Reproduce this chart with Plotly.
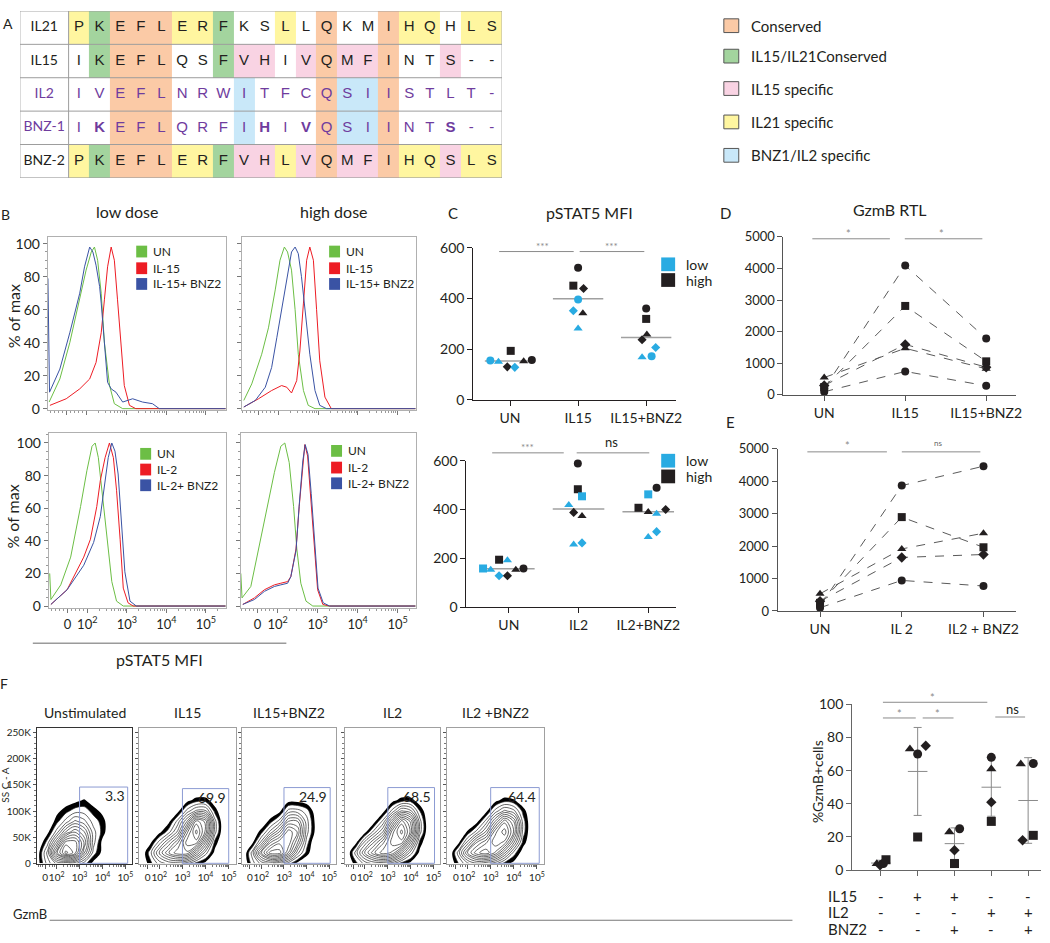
import numpy as np
import plotly.graph_objects as go

W, H = 1050, 943
FONT = "Lato"
TXT = "#231f20"
PURPLE = "#6f3c9e"
SIG = "#8a8a8a"
BLUE_PT = "#29abe2"
BLACK_PT = "#231f20"
C_UN, C_IL, C_BNZ = "#6cbe45", "#ed1c24", "#3a53a4"

# ---------------- Panel A data ----------------
seq_names = ["IL21", "IL15", "IL2", "BNZ-1", "BNZ-2"]
seq_IL21 = "PKEFLERFKSLLQKMIHQHLS"
seq_IL15 = "IKEFLQSFVHIVQMFINTS--"
seq_IL2 = "IVEFLNRWITFCQSIISTLT-"
seq_BNZ1 = "IKEFLQRFIHIVQSIINTS--"
seq_BNZ2 = "PKEFLERFVHLVQMFIHQSLS"
cls_IL21 = "YGOOOYYGWWYWOWWOYYWYY"
cls_IL15 = "WGOOOWWGPPWPOPPOWWPWW"
cls_IL2 = "WWOOOWWWBWWWOBBOWWWWW"
cls_BNZ1 = "WWOOOWWWBWWWOBBOWWWWW"
cls_BNZ2 = "YGOOOYYGPPYPOPPOYYPYY"
bnz1_bold = [1, 9, 11, 18]
purple_rows = ["IL2", "BNZ-1"]
legendA_labels = ["Conserved", "IL15/IL21Conserved", "IL15 specific", "IL21 specific", "BNZ1/IL2 specific"]
legendA_codes = ["O", "G", "P", "Y", "B"]

# ---------------- Panel B data (x in decade display units, y = % of max) ----------------
B_TL_un_x = [1.06, 1.33, 1.58, 1.83, 1.99, 2.12, 2.20, 2.28, 2.37, 2.45, 2.58, 2.70, 2.91, 5.50]
B_TL_un_y = [4, 18, 40, 66, 84, 95, 98, 90, 70, 40, 14, 3, 0, 0]
B_TL_il_x = [1.08, 1.49, 1.83, 2.08, 2.24, 2.37, 2.45, 2.53, 2.62, 2.70, 2.78, 2.87, 2.95, 3.08, 3.24, 5.50]
B_TL_il_y = [2, 6, 12, 18, 28, 46, 66, 86, 98, 90, 66, 38, 14, 2, 0, 0]
B_TL_bnz_x = [1.03, 1.07, 1.33, 1.58, 1.83, 1.95, 2.08, 2.16, 2.24, 2.33, 2.37, 2.45, 2.53, 2.62, 2.74, 2.91, 3.16, 3.41, 3.66, 3.83, 5.50]
B_TL_bnz_y = [79, 10, 24, 46, 70, 86, 98, 95, 87, 74, 64, 38, 16, 12, 10, 4, 6, 4, 3, 0, 0]

B_TR_un_x = [1.13, 1.33, 1.58, 1.75, 1.92, 2.04, 2.15, 2.23, 2.33, 2.42, 2.50, 2.63, 2.75, 2.92, 5.45]
B_TR_un_y = [5, 15, 33, 49, 72, 90, 98, 95, 84, 60, 33, 11, 2, 0, 0]
B_TR_il_x = [1.13, 1.50, 1.83, 2.08, 2.21, 2.33, 2.46, 2.54, 2.63, 2.71, 2.79, 2.88, 2.96, 3.04, 3.17, 3.33, 5.45]
B_TR_il_y = [1, 6, 11, 14, 13, 9.5, 17, 35, 64, 90, 98, 90, 60, 29, 7, 0, 0]
B_TR_bnz_x = [1.13, 1.42, 1.67, 1.83, 1.96, 2.08, 2.21, 2.33, 2.42, 2.50, 2.58, 2.67, 2.79, 2.92, 3.04, 3.21, 5.45]
B_TR_bnz_y = [1, 5, 13, 25, 43, 60, 78, 95, 98, 94, 80, 60, 33, 11, 2, 0, 0]

B_BL_un_x = [1.05, 1.08, 1.33, 1.58, 1.83, 1.99, 2.12, 2.20, 2.28, 2.37, 2.49, 2.62, 2.74, 2.91, 5.50]
B_BL_un_y = [20, 4, 13, 30, 61, 83, 98, 100, 91, 71, 41, 15, 3, 0, 0]
B_BL_il_x = [1.08, 1.49, 1.91, 2.08, 2.24, 2.33, 2.45, 2.56, 2.66, 2.74, 2.83, 2.91, 3.03, 3.16, 5.50]
B_BL_il_y = [1, 10, 30, 41, 61, 77, 91, 100, 91, 71, 41, 11, 2, 0, 0]
B_BL_bnz_x = [1.08, 1.49, 1.91, 2.16, 2.33, 2.45, 2.53, 2.62, 2.70, 2.78, 2.87, 2.95, 3.08, 3.24, 5.50]
B_BL_bnz_y = [1, 10, 25, 39, 55, 75, 91, 100, 95, 81, 51, 21, 3, 0, 0]

B_BR_un_x = [1.08, 1.11, 1.33, 1.58, 1.75, 1.92, 2.08, 2.18, 2.29, 2.40, 2.48, 2.58, 2.71, 2.88, 5.45]
B_BR_un_y = [20, 5, 12, 41, 61, 82, 98, 100, 88, 61, 35, 14, 3, 0, 0]
B_BR_il_x = [1.13, 1.42, 1.67, 1.92, 2.08, 2.25, 2.33, 2.46, 2.54, 2.63, 2.68, 2.75, 2.83, 2.92, 3.00, 3.13, 3.29, 5.45]
B_BR_il_y = [1, 5, 10, 13, 14, 15, 18, 35, 61, 88, 99, 92, 67, 35, 10, 1, 0, 0]
B_BR_bnz_x = [1.13, 1.42, 1.67, 1.92, 2.08, 2.25, 2.33, 2.46, 2.54, 2.63, 2.69, 2.76, 2.84, 2.93, 3.01, 3.14, 3.30, 5.45]
B_BR_bnz_y = [1, 4, 9, 12, 13, 14, 18, 34, 62, 89, 99, 93, 69, 37, 11, 2, 0, 0]

B_legend_top = ["UN", "IL-15", "IL-15+ BNZ2"]
B_legend_bot = ["UN", "IL-2", "IL-2+ BNZ2"]
B_xtick_text = ["0", "10<sup>2</sup>", "10<sup>3</sup>", "10<sup>4</sup>", "10<sup>5</sup>"]

# ---------------- Panel C data ----------------
C1_cats = ["UN", "IL15", "IL15+BNZ2"]
C1_grp = [0] * 7 + [1] * 7 + [2] * 7
C1_val = [155, 150, 130, 193, 128, 152, 157,
          521, 450, 439, 395, 351, 341, 281,
          360, 319, 258, 237, 206, 168, 172]
C1_off = [-0.29, -0.17, -0.04, 0.01, 0.07, 0.20, 0.32,
          0.0, -0.07, 0.08, 0.0, -0.07, 0.07, 0.0,
          0.0, 0.0, 0.01, -0.06, 0.14, -0.06, 0.08]
C1_sym = ["circle", "triangle-up", "diamond", "square", "diamond", "triangle-up", "circle",
          "circle", "square", "diamond", "circle", "diamond", "triangle-up", "triangle-up",
          "circle", "square", "triangle-up", "diamond", "diamond", "triangle-up", "circle"]
C1_dose = ["low", "low", "high", "high", "low", "high", "high",
           "high", "high", "high", "low", "low", "high", "low",
           "high", "high", "high", "high", "low", "low", "low"]
C1_median = [153, 398, 246]

C2_cats = ["UN", "IL2", "IL2+BNZ2"]
C2_grp = [0] * 8 + [1] * 8 + [2] * 8
C2_val = [158, 153, 194, 192, 128, 128, 153, 158,
          589, 483, 454, 418, 388, 373, 256, 263,
          407, 489, 462, 390, 382, 400, 287, 309]
C2_off = [-0.37, -0.26, -0.14, -0.02, -0.14, -0.02, 0.10, 0.21,
          -0.01, -0.01, 0.05, -0.14, -0.07, 0.05, -0.07, 0.05,
          -0.14, 0.12, 0.0, 0.0, 0.12, 0.25, 0.0, 0.12]
C2_sym = ["square", "triangle-up", "square", "triangle-up", "diamond", "diamond", "triangle-up", "circle",
          "circle", "square", "square", "triangle-up", "diamond", "triangle-up", "triangle-up", "diamond",
          "square", "circle", "square", "triangle-up", "triangle-up", "diamond", "triangle-up", "diamond"]
C2_dose = ["low", "low", "high", "low", "low", "high", "high", "high",
           "high", "high", "low", "low", "high", "high", "low", "low",
           "high", "high", "low", "high", "low", "high", "low", "low"]
C2_median = [157, 402, 391]
dose_labels = ["low", "high"]

# ---------------- Panels D / E data ----------------
D_cats = ["UN", "IL15", "IL15+BNZ2"]
D_d1 = [200, 4093, 1784]
D_d2 = [250, 2814, 1062]
D_d3 = [300, 1598, 876]
D_d4 = [550, 1474, 825]
D_d5 = [100, 742, 289]
E_cats = ["UN", "IL 2", "IL2 + BNZ2"]
E_d1 = [150, 3868, 4466]
E_d2 = [250, 2896, 1965]
E_d3 = [300, 1651, 1742]
E_d4 = [530, 1914, 2400]
E_d5 = [100, 942, 770]
donor_symbols = ["circle", "square", "diamond", "triangle-up", "circle"]

# ---------------- Panel F flow density data ----------------
F_titles = ["Unstimulated", "IL15", "IL15+BNZ2", "IL2", "IL2 +BNZ2"]
F_gate_pct = ["3.3", "69.9", "24.9", "68.5", "64.4"]
F_gate_right = [5.1, 5.0, 5.04, 5.04, 5.1]
F_gate_top = [146, 143, 145, 145, 145]
F_u = [1.2, 1.6, 2.0, 2.4, 2.8, 3.2, 3.6, 4.0, 4.4, 4.8]
F_ssc = [0, 20, 40, 60, 80, 100, 120, 140]
F_z_unstim = [
    [0.5, 2, 3, 3, 2.5, 1.5, 0.5, 0, 0, 0],
    [0.5, 2.5, 6, 8, 7, 4, 1.5, 0.5, 0, 0],
    [0, 1.5, 4, 7, 7, 5, 2, 0.5, 0, 0],
    [0, 0.5, 2, 4, 5, 4, 2, 1, 0, 0],
    [0, 0, 1, 2, 3, 2.5, 1.5, 1, 0, 0],
    [0, 0, 0.5, 1, 1.5, 1.5, 1, 0.5, 0, 0],
    [0, 0, 0, 0.3, 0.5, 0.8, 0.3, 0, 0, 0],
    [0, 0, 0, 0, 0, 0, 0, 0, 0, 0]]
F_z_il15 = [
    [0, 1, 2, 2.5, 2.5, 2, 1, 0.5, 0, 0],
    [0, 1.5, 3.5, 5, 6, 6, 4, 2, 0.5, 0],
    [0, 0.5, 2, 3.5, 5, 7, 7, 4, 1, 0],
    [0, 0, 0.5, 1.5, 3, 6, 8, 6, 2, 0],
    [0, 0, 0, 0.5, 2, 4, 7, 6, 2, 0],
    [0, 0, 0, 0, 0.5, 2, 3, 3, 1, 0],
    [0, 0, 0, 0, 0, 0.5, 1, 1, 0.3, 0],
    [0, 0, 0, 0, 0, 0, 0, 0, 0, 0]]
F_z_il15_bnz = [
    [0, 1.5, 2.5, 3, 2.5, 1.5, 0.5, 0, 0, 0],
    [0, 2, 5, 7, 7, 5, 2.5, 1, 0, 0],
    [0, 0.5, 2.5, 5, 6, 6, 4, 1.5, 0, 0],
    [0, 0, 1, 2.5, 4, 6, 5, 2, 0.5, 0],
    [0, 0, 0, 1, 2, 4, 4, 2, 0.5, 0],
    [0, 0, 0, 0, 0.5, 2, 2, 1.5, 0.3, 0],
    [0, 0, 0, 0, 0, 0.5, 0.5, 0.3, 0, 0],
    [0, 0, 0, 0, 0, 0, 0, 0, 0, 0]]
F_z_il2 = [
    [0, 1, 2, 2.5, 2.5, 2, 1, 0.5, 0, 0],
    [0, 2, 4, 5.5, 6.5, 6, 4, 2, 0.5, 0],
    [0, 0.5, 2.5, 4, 5.5, 7, 7, 4, 1, 0],
    [0, 0, 0.5, 2, 3.5, 6.5, 8, 6, 2, 0],
    [0, 0, 0, 0.5, 2, 4.5, 7, 5.5, 2, 0],
    [0, 0, 0, 0, 0.5, 2, 3.5, 3, 1.2, 0],
    [0, 0, 0, 0, 0, 0.5, 1, 1, 0.3, 0],
    [0, 0, 0, 0, 0, 0, 0, 0, 0, 0]]
F_z_il2_bnz = [
    [0, 1.2, 2.2, 2.8, 2.5, 2, 1, 0.5, 0, 0],
    [0, 2, 4.5, 6, 6.5, 5.5, 3.5, 1.5, 0.3, 0],
    [0, 0.5, 2.5, 4.5, 5.5, 6.5, 6, 3.5, 1, 0],
    [0, 0, 0.8, 2, 3.5, 6, 7, 5, 1.5, 0],
    [0, 0, 0, 0.5, 2, 4, 6, 4.5, 1.5, 0],
    [0, 0, 0, 0, 0.5, 2, 3, 2.5, 1, 0],
    [0, 0, 0, 0, 0, 0.5, 1, 0.8, 0.2, 0],
    [0, 0, 0, 0, 0, 0, 0, 0, 0, 0]]
F_grids = [F_z_unstim, F_z_il15, F_z_il15_bnz, F_z_il2, F_z_il2_bnz]

# ---------------- Panel F right data ----------------
G_cats = [0, 1, 2, 3, 4]
G_tri = [3.9, 73, 23, 61, 64]
G_cir = [4.0, 70, 25, 68, 64.3]
G_dia = [3.0, 75, 12, 41, 18]
G_sqr = [6.3, 20, 4, 29.4, 21]
G_tri_off = [-0.11, -0.21, -0.14, 0.0, -0.20]
G_cir_off = [0.07, 0.0, 0.14, 0.0, 0.14]
G_dia_off = [-0.02, 0.22, 0.0, 0.0, -0.15]
G_sqr_off = [0.14, 0.0, 0.0, 0.0, 0.14]
G_mean = [4.3, 59.5, 16, 50, 42]
G_upper = [6, 86, 25.5, 67.5, 67.8]
G_lower = [3, 33, 6.5, 32.5, 16.2]
G_IL15 = ["-", "+", "+", "-", "-"]
G_IL2 = ["-", "-", "-", "+", "+"]
G_BNZ2 = ["-", "-", "+", "-", "+"]

# =====================================================================
fig = go.Figure()
annotations, shapes, axes = [], [], {}


def PX(x):
    return x / W


def PY(y):
    return 1 - y / H


def text(x, y, s, size=13, color=TXT, xanchor="center", yanchor="middle", angle=0, family=FONT):
    annotations.append(dict(x=PX(x), y=PY(y), xref="paper", yref="paper", text=s, showarrow=False,
                            font=dict(size=size, color=color, family=family), xanchor=xanchor,
                            yanchor=yanchor, textangle=angle))


def pline(x0, x1, y0, y1=None, color=SIG, width=1):
    if y1 is None:
        y1 = y0
    shapes.append(dict(type="line", xref="paper", yref="paper", x0=PX(x0), x1=PX(x1), y0=PY(y0), y1=PY(y1),
                       line=dict(color=color, width=width)))


def prect(x0, y0, x1, y1, fill, line=None):
    shapes.append(dict(type="rect", xref="paper", yref="paper", x0=PX(x0), x1=PX(x1), y0=PY(y1), y1=PY(y0),
                       fillcolor=fill, line=dict(color=line or fill, width=1 if line else 0)))


def sfx(n):
    return "" if n == 1 else str(n)


def add_axes(n, x0, x1, y0, y1, xa, ya):
    s = sfx(n)
    xa = dict(xa)
    ya = dict(ya)
    xa.update(domain=[x0 / W, x1 / W], anchor="y" + s)
    ya.update(domain=[1 - y1 / H, 1 - y0 / H], anchor="x" + s)
    axes["xaxis" + s] = xa
    axes["yaxis" + s] = ya


def xy(n):
    return dict(xaxis="x" + sfx(n), yaxis="y" + sfx(n))


# ---------------- Panel A ----------------
codes = "WOGPYB"
pal = {"W": "#ffffff", "O": "#fbcaa6", "G": "#a3d49e", "P": "#f9d3e3", "Y": "#fff6a0", "B": "#c9e8f9"}
rows_seq = [seq_IL21, seq_IL15, seq_IL2, seq_BNZ1, seq_BNZ2]
rows_cls = [cls_IL21, cls_IL15, cls_IL2, cls_BNZ1, cls_BNZ2]
zA = [[0] + [codes.index(c) for c in cl] for cl in rows_cls]
scale = []
for i, c in enumerate(codes):
    scale += [[i / len(codes), pal[c]], [(i + 1) / len(codes), pal[c]]]
LABW = 49 / 20.76
ncol = len(seq_IL21)
xedges = [-LABW] + list(range(ncol + 1))
yedges = list(range(len(rows_seq) + 1))
fig.add_trace(go.Heatmap(z=zA, x=xedges, y=yedges, colorscale=scale, zmin=-0.5, zmax=5.5,
                         showscale=False, hoverinfo="skip", **xy(1)))
lx, ly, lt, lc = [], [], [], []
for r, s in enumerate(rows_seq):
    col = PURPLE if seq_names[r] in purple_rows else TXT
    for c, ch in enumerate(s):
        t = ch
        if seq_names[r] == "BNZ-1" and c in bnz1_bold:
            t = "<b>" + ch + "</b>"
        lx.append(c + 0.5)
        ly.append(r + 0.5)
        lt.append(t)
        lc.append(col)
fig.add_trace(go.Scatter(x=lx, y=ly, text=lt, mode="text", hoverinfo="skip",
                         textfont=dict(size=15, color=lc, family="Liberation Sans"), **xy(1)))
fig.add_trace(go.Scatter(x=[-LABW / 2] * len(seq_names), y=[r + 0.5 for r in range(len(seq_names))],
                         text=seq_names, mode="text", hoverinfo="skip",
                         textfont=dict(size=14, family=FONT,
                                       color=[PURPLE if n in purple_rows else TXT for n in seq_names]), **xy(1)))
for r in range(len(rows_seq) + 1):
    shapes.append(dict(type="line", xref="x", yref="y", x0=-LABW, x1=ncol, y0=r, y1=r,
                       line=dict(color="#9d9d9d", width=1)))
for xv in (-LABW, 0, ncol):
    shapes.append(dict(type="line", xref="x", yref="y", x0=xv, x1=xv, y0=0, y1=len(rows_seq),
                       line=dict(color="#9d9d9d", width=1)))
add_axes(1, 20, 505, 2, 172, dict(range=[-LABW, ncol], visible=False), dict(range=[5, 0], visible=False))
text(8, 15, "A", size=14)
for i, (lab, cd) in enumerate(zip(legendA_labels, legendA_codes)):
    yc = [17, 48, 81, 115, 149][i]
    prect(728, yc - 7, 743, yc + 7, pal[cd], line="#555")
    text(753, yc, lab, size=15, xanchor="left")

# ---------------- Panel B ----------------
minorB = [1.1, 1.2, 1.3, 1.4, 1.6, 1.7, 1.8, 1.9]
for d in range(2, 6):
    for k in range(2, 10):
        v = d + np.log10(k)
        if v < 5.45:
            minorB.append(float(v))


def b_axes(n, x0, x1, y0, y1, yr, xr, showx, showy):
    xa = dict(range=xr, tickvals=[1.5, 2, 3, 4, 5], ticktext=B_xtick_text, showticklabels=showx, tickangle=0,
              ticks="outside", ticklen=4, tickcolor="#777", showline=True, mirror=True, linecolor="#b0b0b0",
              linewidth=1, showgrid=False, zeroline=False,
              minor=dict(tickvals=minorB, ticks="outside", ticklen=2, tickcolor="#999"),
              tickfont=dict(size=13, family=FONT, color=TXT))
    ya = dict(range=yr, tickvals=[0, 20, 40, 60, 80, 100], showticklabels=showy, ticks="outside", ticklen=4,
              tickcolor="#777", showline=True, mirror=True, linecolor="#b0b0b0", linewidth=1, showgrid=False,
              zeroline=False, minor=dict(tickmode="linear", tick0=0, dtick=5, ticks="outside", ticklen=2,
                                         tickcolor="#999"),
              tickfont=dict(size=14, family=FONT, color=TXT))
    add_axes(n, x0, x1, y0, y1, xa, ya)


b_axes(2, 48, 227, 232, 408, [-0.6, 104.2], [1.025, 5.5], False, True)
b_axes(3, 243, 418, 232, 408, [-0.6, 104.2], [1.075, 5.45], False, False)
b_axes(4, 49, 227, 432, 610, [-1.2, 106], [1.025, 5.5], True, True)
b_axes(5, 242, 418, 432, 610, [-1.2, 106], [1.075, 5.45], True, False)
hist_sets = [
    (2, [(B_TL_un_x, B_TL_un_y, C_UN), (B_TL_il_x, B_TL_il_y, C_IL), (B_TL_bnz_x, B_TL_bnz_y, C_BNZ)]),
    (3, [(B_TR_un_x, B_TR_un_y, C_UN), (B_TR_il_x, B_TR_il_y, C_IL), (B_TR_bnz_x, B_TR_bnz_y, C_BNZ)]),
    (4, [(B_BL_un_x, B_BL_un_y, C_UN), (B_BL_il_x, B_BL_il_y, C_IL), (B_BL_bnz_x, B_BL_bnz_y, C_BNZ)]),
    (5, [(B_BR_un_x, B_BR_un_y, C_UN), (B_BR_il_x, B_BR_il_y, C_IL), (B_BR_bnz_x, B_BR_bnz_y, C_BNZ)]),
]
for n, curves in hist_sets:
    for xs, ys, col in curves:
        fig.add_trace(go.Scatter(x=xs, y=ys, mode="lines", line=dict(color=col, width=1),
                                 hoverinfo="skip", **xy(n)))
for (sx, ys, labels) in [(137, [247, 264, 280], B_legend_top), (331, [247, 264, 280], B_legend_top),
                         (141, [453, 469, 485], B_legend_bot), (333, [450, 467, 483], B_legend_bot)]:
    for yc, lab, col in zip(ys, labels, [C_UN, C_IL, C_BNZ]):
        prect(sx, yc - 6, sx + 11, yc + 6, col)
        text(sx + 15, yc, lab, size=12, xanchor="left")
text(6, 209, "B", size=14)
text(128, 206, "low dose", size=16)
text(336, 206, "high dose", size=16)
text(13, 313, "% of max", size=16, angle=-90)
text(13, 517, "% of max", size=16, angle=-90)
pline(33, 288, 646, color="#9a9a9a", width=1.5)
text(160, 662, "pSTAT5 MFI", size=16)

# ---------------- Panel C ----------------
def c_axes(n, x0, x1, y0, y1, xr, cats):
    xa = dict(range=xr, tickvals=[0, 1, 2], ticktext=cats, ticks="outside", ticklen=5, tickcolor=TXT,
              showline=True, linecolor=TXT, linewidth=1, showgrid=False, zeroline=False,
              tickfont=dict(size=14, family=FONT, color=TXT))
    ya = dict(range=[0, 600], tickvals=[0, 200, 400, 600], ticks="outside", ticklen=5, tickcolor=TXT,
              showline=True, linecolor=TXT, linewidth=1, showgrid=False, zeroline=False,
              tickfont=dict(size=14, family=FONT, color=TXT))
    add_axes(n, x0, x1, y0, y1, xa, ya)


c_axes(6, 476, 680, 243, 398, [-0.54, 2.44], C1_cats)
c_axes(7, 469, 680, 460, 609, [-0.61, 2.4], C2_cats)
sym_size = {"circle": 8, "square": 8, "triangle-up": 8, "diamond": 7}
for n, grp, val, off, sym, dose, med in [(6, C1_grp, C1_val, C1_off, C1_sym, C1_dose, C1_median),
                                         (7, C2_grp, C2_val, C2_off, C2_sym, C2_dose, C2_median)]:
    for g, m in enumerate(med):
        fig.add_trace(go.Scatter(x=[g - 0.37, g + 0.37], y=[m, m], mode="lines",
                                 line=dict(color="#a0a0a0", width=1.5), hoverinfo="skip", **xy(n)))
    fig.add_trace(go.Scatter(x=[g + o for g, o in zip(grp, off)], y=val, mode="markers", cliponaxis=False,
                             marker=dict(symbol=sym, size=[sym_size[s] for s in sym], opacity=1,
                                         color=[BLUE_PT if d == "low" else BLACK_PT for d in dose],
                                         line=dict(width=0)), hoverinfo="skip", **xy(n)))
text(456, 208, "C", size=15)
text(593, 207, "pSTAT5 MFI", size=16)
for yl, yh in [(260, 276), (460, 476)]:
    prect(665, yl - 7, 679, yl + 7, BLUE_PT)
    prect(665, yh - 7, 679, yh + 7, BLACK_PT)
    text(688, yl, dose_labels[0], size=14, xanchor="left")
    text(688, yh, dose_labels[1], size=14, xanchor="left")
pline(502, 577, 247)
pline(583, 648, 247)
text(546, 241, "***", size=10, color=SIG)
text(615, 241, "***", size=10, color=SIG)
pline(495, 567, 452)
pline(580, 653, 452)
text(531, 446, "***", size=10, color=SIG)
text(615, 441, "ns", size=13)

# ---------------- Panels D / E ----------------
def de_axes(n, x0, x1, y0, y1, xr, cats):
    xa = dict(range=xr, tickvals=[0, 1, 2], ticktext=cats, ticks="outside", ticklen=5, tickcolor="#555",
              showline=True, linecolor="#555", linewidth=1, showgrid=False, zeroline=False,
              tickfont=dict(size=14, family=FONT, color=TXT))
    ya = dict(range=[0, 5000], tickvals=[0, 1000, 2000, 3000, 4000, 5000], ticks="outside", ticklen=5,
              tickcolor="#555", showline=True, linecolor="#555", linewidth=1, showgrid=False, zeroline=False,
              tickfont=dict(size=13, family=FONT, color=TXT))
    add_axes(n, x0, x1, y0, y1, xa, ya)


de_axes(8, 788, 1022, 232, 393, [-0.503, 2.37], D_cats)
de_axes(9, 782, 1022, 448, 613, [-0.52, 2.4], E_cats)
for n, series in [(8, [D_d1, D_d2, D_d3, D_d4, D_d5]), (9, [E_d1, E_d2, E_d3, E_d4, E_d5])]:
    for vals, sym in zip(series, donor_symbols):
        fig.add_trace(go.Scatter(x=[0, 1, 2], y=vals, mode="lines+markers", cliponaxis=False,
                                 line=dict(color="#5a5a5a", width=1, dash="dash"),
                                 marker=dict(symbol=sym, size=8, color=BLACK_PT), hoverinfo="skip", **xy(n)))
text(730, 208, "D", size=15)
text(895, 204, "GzmB RTL", size=16)
text(735, 421, "E", size=15)
pline(817, 895, 234)
pline(910, 988, 234)
text(853, 229, "*", size=11, color=SIG)
text(947, 229, "*", size=11, color=SIG)
pline(812, 892, 451)
pline(907, 986, 451)
text(852, 445, "*", size=11, color=SIG)
text(943, 442, "ns", size=8, color="#666")

# ---------------- Panel F contours ----------------
F_boxes = [(37, 133), (140, 237), (243, 338), (347, 443), (450, 547)]
minorF = [1.2, 1.3, 1.4, 1.7, 1.8, 1.9]
for d in range(2, 6):
    for k in range(2, 10):
        v = d + np.log10(k)
        if v < 5.3:
            minorF.append(float(v))
# colour scale for the outer "dense events" band (only band between the two levels is black)
band_scale = [[0, "white"], [0.25, "white"], [0.25, "black"], [0.75, "black"], [0.75, "white"], [1, "white"]]
for i, ((x0, x1), grid) in enumerate(zip(F_boxes, F_grids)):
    n = 10 + i
    first = i == 0
    xa = dict(range=[1.13, 5.3], tickvals=[1.5, 2, 3, 4, 5], ticktext=B_xtick_text, ticks="outside",
              tickangle=0, ticklen=4, tickcolor="#555", showline=True, mirror=True,
              linecolor="#333" if first else "#a0a0a0", linewidth=1, showgrid=False, zeroline=False,
              minor=dict(tickvals=minorF, ticks="outside", ticklen=2, tickcolor="#777"),
              tickfont=dict(size=10, family=FONT, color=TXT))
    ya = dict(range=[-1.9, 259.4], tickvals=[0, 50, 100, 150, 200, 250],
              ticktext=["0", "50K", "100K", "150K", "200K", "250K"], showticklabels=first, ticks="outside",
              ticklen=3, tickcolor="#555", showline=True, mirror=True,
              linecolor="#333" if first else "#a0a0a0", linewidth=1, showgrid=False, zeroline=False,
              minor=dict(tickmode="linear", tick0=0, dtick=10, ticks="outside", ticklen=2, tickcolor="#777"),
              tickfont=dict(size=10, family=FONT, color=TXT))
    add_axes(n, x0, x1, 732, 871, xa, ya)
    fig.add_trace(go.Contour(x=F_u, y=F_ssc, z=grid, colorscale=band_scale, showscale=False,
                             contours=dict(start=0.7, end=1.2, size=0.5, coloring="fill", showlines=False),
                             line=dict(width=0, smoothing=1.0), hoverinfo="skip", **xy(n)))
    fig.add_trace(go.Contour(x=F_u, y=F_ssc, z=grid, colorscale=[[0, "#262626"], [1, "#262626"]],
                             showscale=False, contours=dict(start=1.2, end=8.2, size=0.55, coloring="lines"),
                             line=dict(width=0.7, smoothing=1.0), hoverinfo="skip", **xy(n)))
    shapes.append(dict(type="rect", xref="x" + sfx(n), yref="y" + sfx(n), x0=3, x1=F_gate_right[i], y0=0,
                       y1=F_gate_top[i], line=dict(color="#8c9bd3", width=1)))
    annotations.append(dict(x=F_gate_right[i] - 0.05, y=F_gate_top[i] - 17, xref="x" + sfx(n),
                            yref="y" + sfx(n), text=F_gate_pct[i], showarrow=False, xanchor="right",
                            yanchor="middle", font=dict(size=14, family=FONT, color=TXT)))
    text((x0 + x1) / 2, 716, F_titles[i], size=14)
text(4, 687, "F", size=14)
text(5, 790, "SS C - A", size=10, angle=-90)
text(30, 922, "GzmB", size=13)
pline(50, 797, 928, color="#777", width=1.2)

# ---------------- Panel F right ----------------
xa = dict(range=[-0.78, 4.35], tickvals=G_cats, showticklabels=False, ticks="outside", ticklen=5,
          tickcolor="#666", showline=True, linecolor="#666", linewidth=1, showgrid=False, zeroline=False)
ya = dict(range=[0, 100], tickvals=[0, 20, 40, 60, 80, 100], ticks="outside", ticklen=5, tickcolor="#666",
          showline=True, linecolor="#666", linewidth=1, showgrid=False, zeroline=False,
          tickfont=dict(size=14, family=FONT, color=TXT))
add_axes(15, 857, 1047, 708, 877, xa, ya)
fig.add_trace(go.Scatter(x=G_cats, y=G_mean, mode="markers", cliponaxis=False,
                         marker=dict(symbol="line-ew-open", size=14, color="#8a8a8a",
                                     line=dict(color="#8a8a8a", width=1)),
                         error_y=dict(type="data", symmetric=False,
                                      array=[u - m for u, m in zip(G_upper, G_mean)],
                                      arrayminus=[m - l for m, l in zip(G_mean, G_lower)],
                                      color="#8a8a8a", thickness=1, width=4),
                         hoverinfo="skip", **xy(15)))
for vals, offs, sym in [(G_tri, G_tri_off, "triangle-up"), (G_cir, G_cir_off, "circle"),
                        (G_dia, G_dia_off, "diamond"), (G_sqr, G_sqr_off, "square")]:
    fig.add_trace(go.Scatter(x=[c + o for c, o in zip(G_cats, offs)], y=vals, mode="markers", cliponaxis=False,
                             marker=dict(symbol=sym, size=sym_size[sym] + 1, color=BLACK_PT, opacity=1),
                             hoverinfo="skip", **xy(15)))
text(823, 787, "%GzmB+cells", size=14, angle=-90)
for lab, signs, yv in [("IL15", G_IL15, 903), ("IL2", G_IL2, 920), ("BNZ2", G_BNZ2, 937)]:
    text(831, yv, lab, size=15, xanchor="left")
    for c, sgn in zip(G_cats, signs):
        annotations.append(dict(x=c, y=PY(yv), xref="x15", yref="paper", text=sgn, showarrow=False,
                                xanchor="center", yanchor="middle",
                                font=dict(size=15, family=FONT, color=TXT)))
pline(888, 993, 706)
text(938, 701, "*", size=11, color=SIG)
pline(888, 921, 722)
pline(928, 959, 722)
text(905, 717, "*", size=11, color=SIG)
text(943, 717, "*", size=11, color=SIG)
pline(1001, 1031, 721)
text(1018, 713, "ns", size=13)

fig.update_layout(width=W, height=H, margin=dict(l=0, r=0, t=0, b=0), paper_bgcolor="white",
                  plot_bgcolor="white", showlegend=False, annotations=annotations, shapes=shapes,
                  font=dict(family=FONT, color=TXT), **axes)
fig.write_html("out.html", config={"displayModeBar": False},
               post_script="document.body.style.margin='0';")
